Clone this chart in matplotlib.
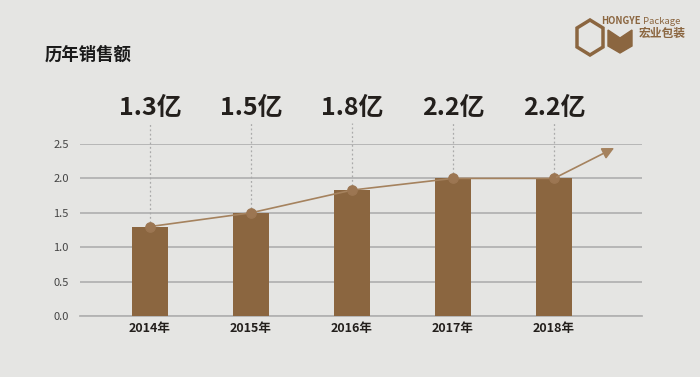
import matplotlib
matplotlib.use("Agg")
import matplotlib.pyplot as plt
from matplotlib.patches import Polygon
import numpy as np

plt.rcParams['font.family'] = ['Noto Sans CJK SC', 'DejaVu Sans']

years = ["2014年", "2015年", "2016年", "2017年", "2018年"]
values = [1.3, 1.5, 1.83, 2.0, 2.0]
labels = ["1.3亿", "1.5亿", "1.8亿", "2.2亿", "2.2亿"]
yticks = [0.0, 0.5, 1.0, 1.5, 2.0, 2.5]
arrow_end = (4.62, 2.46)

bg = "#e5e5e3"
brown = "#8b6640"
line_c = "#a5825e"

fig = plt.figure(figsize=(7, 3.77), dpi=100)
fig.patch.set_facecolor(bg)
ax = fig.add_axes([80/700, 1-316/377, (642-80)/700, (316-144)/377])
ax.set_facecolor(bg)

x = np.arange(len(years))
ax.bar(x, values, width=0.355, color=brown, zorder=3)
ax.plot(x, values, color=line_c, lw=1.2, zorder=4)
ax.scatter(x, values, s=45, color="#9c7652", zorder=5)
ax.annotate("", xy=arrow_end, xytext=(x[-1], values[-1]),
            arrowprops=dict(arrowstyle="-|>,head_length=0.7,head_width=0.35",
                            color=line_c, lw=1.2), zorder=5, annotation_clip=False)

for xi, v, lab in zip(x, values, labels):
    ax.plot([xi, xi], [v, 2.8], ls=(0, (1.5, 2)), color="#aaaaaa", lw=0.9,
            clip_on=False, zorder=2)
    ax.text(xi, 3.03, lab, ha="center", va="center", fontsize=18,
            fontweight="bold", color="#231f1c", clip_on=False)

ax.set_xlim(-0.693, 4.871)
ax.set_ylim(0, 2.5)
ax.set_yticks(yticks)
ax.set_yticklabels([f"{t:.1f}" for t in yticks], fontsize=8, color="#444444")
ax.set_xticks(x)
ax.set_xticklabels(years, fontsize=9, fontweight="bold", color="#231f1c")
ax.tick_params(length=0, pad=4)
ax.tick_params(axis="y", pad=8)
ax.grid(axis="y", color="#b3b3b3", lw=1.3, zorder=1)
for s in ax.spines.values():
    s.set_visible(False)
ax.spines["bottom"].set_visible(True)
ax.spines["bottom"].set_color("#b3b3b3")
ax.spines["bottom"].set_linewidth(1.3)

fig.text(45/700, 1-55/377, "历年销售额", fontsize=12.5, fontweight="bold",
         color="#1a1a1a", va="center", ha="left")

# logo (pixel coords -> figure fraction)
def px(xp, yp):
    return (xp/700, 1 - yp/377)

hexpts = [px(590, 20), px(603, 28), px(603, 47), px(590, 55), px(577, 47), px(577, 28)]
fig.add_artist(Polygon(hexpts, closed=True, fill=False, edgecolor=brown, lw=2.5,
                       transform=fig.transFigure))
chev = [px(608, 30), px(620, 38), px(632, 30), px(632, 46), px(620, 53), px(608, 46)]
fig.add_artist(Polygon(chev, closed=True, color=brown, transform=fig.transFigure))
fig.text(641/700, 1-21/377, "HONGYE", fontsize=6.8, fontweight="bold", color=brown,
         va="center", ha="right")
fig.text(643/700, 1-21/377, "Package", fontsize=6.8, color=brown, va="center", ha="left")
fig.text(639/700, 1-34/377, "宏业包装", fontsize=8.5, fontweight="bold", color=brown,
         va="center", ha="left")

fig.savefig("out.png", dpi=100, facecolor=bg)
